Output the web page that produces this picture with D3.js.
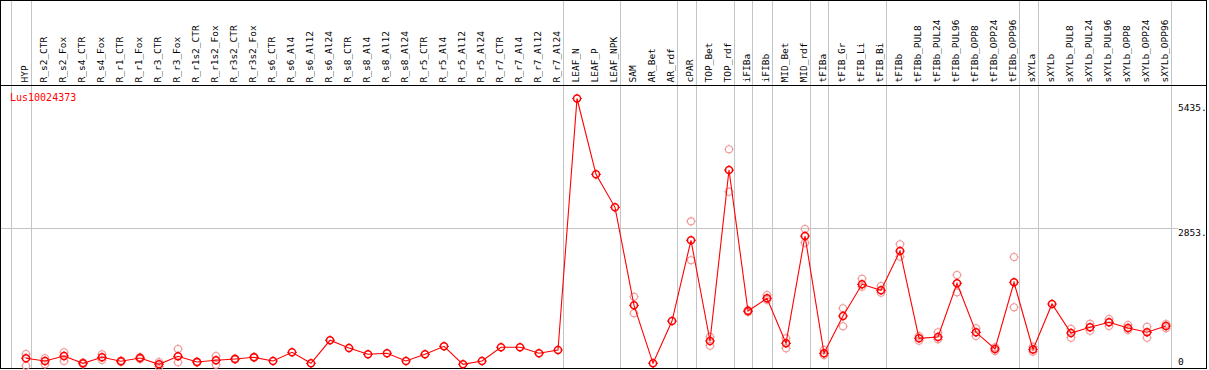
<!DOCTYPE html>
<meta charset="utf-8">
<style>
html,body {
  margin:0px;
  padding:0px;
  overflow:hidden;
  background-color:white;
}
text {
  font-family: "DejaVu Sans Mono", monospace;
  font-size: 9.5px;
}
.sep, .grid {
  stroke: #c4c4c4;
  stroke-width: 1;
  shape-rendering: crispEdges;
}
.frame {
  fill: none;
  stroke: black;
  stroke-width: 1;
  shape-rendering: crispEdges;
}
</style>
<body>
<svg></svg>
</body>
<script src="https://d3js.org/d3.v7.min.js"></script>
<script>

var categories = ["HYP","R_s2_CTR","R_s2_Fox","R_s4_CTR","R_s4_Fox","R_r1_CTR","R_r1_Fox","R_r3_CTR","R_r3_Fox",
  "R_r1s2_CTR","R_r1s2_Fox","R_r3s2_CTR","R_r3s2_Fox","R_s6_CTR","R_s6_Al4","R_s6_Al12","R_s6_Al24",
  "R_s8_CTR","R_s8_Al4","R_s8_Al12","R_s8_Al24","R_r5_CTR","R_r5_Al4","R_r5_Al12","R_r5_Al24",
  "R_r7_CTR","R_r7_Al4","R_r7_Al12","R_r7_Al24","LEAF_N","LEAF_P","LEAF_NPK","SAM","AR_Bet","AR_rdf",
  "cPAR","TOP_Bet","TOP_rdf","iFIBa","iFIBb","MID_Bet","MID_rdf","tFIBa","tFIB_Gr","tFIB_Li","tFIB_Bi",
  "tFIBb","tFIBb_PUL8","tFIBb_PUL24","tFIBb_PUL96","tFIBb_OPP8","tFIBb_OPP24","tFIBb_OPP96",
  "sXYLa","sXYLb","sXYLb_PUL8","sXYLb_PUL24","sXYLb_PUL96","sXYLb_OPP8","sXYLb_OPP24","sXYLb_OPP96"];

var means = [267,213,312,167,286,207,272,147,306,193,227,253,286,213,386,167,625,471,346,366,213,346,505,147,213,
  485,485,366,432,5435,3926,3270,1321,167,1008,2614,611,4012,1207,1460,565,2699,366,1108,1738,1619,
  2401,664,690,1758,784,452,1778,442,1347,770,883,983,869,784,909];

var repHigh = [352,267,386,180,346,220,290,193,452,200,312,260,295,null,null,null,null,null,null,null,null,null,null,null,null,
  null,null,null,null,null,null,null,1492,null,null,2991,696,4424,1227,1525,664,2838,432,1261,1850,1705,
  2534,710,784,1923,863,485,2281,497,null,855,955,1048,929,895,949];

var repLow = [119,147,213,155,233,195,255,100,187,185,139,245,280,null,null,null,null,null,null,null,null,null,null,null,null,
  null,null,null,null,null,null,null,1162,null,null,2216,517,3580,1190,1426,465,2566,332,903,1691,1571,
  2287,617,644,1579,710,412,1281,398,null,676,815,909,829,676,863];

var separatorsAfter = [-1,0,28,31,34,35,37,38,39,41,42,45,52,53,60];
var axisTicks = [5435, 2853, 0];
var geneName = "Lus10024373";

var W = 1209, H = 370;
var headerY = 85.5, bottomY = 368.5, rightX = 1206.5;

var svg = d3.select("svg").attr("width", W).attr("height", H);

var x = d3.scaleLinear().domain([0, categories.length - 1]).range([26, 1166]);
var y = d3.scaleLinear().domain([0, 5435]).range([371.7, 98.5]);

// group separators
svg.selectAll(".sep").data(separatorsAfter).enter().append("line")
  .attr("class", "sep")
  .attr("x1", function(d){ return Math.round(x(d) + 4.5) + 0.5; })
  .attr("x2", function(d){ return Math.round(x(d) + 4.5) + 0.5; })
  .attr("y1", 0).attr("y2", bottomY);

// grid line at the middle tick
svg.append("line").attr("class", "grid")
  .attr("x1", 0).attr("x2", 1178)
  .attr("y1", Math.round(y(axisTicks[1])) + 0.5)
  .attr("y2", Math.round(y(axisTicks[1])) + 0.5);

// frame and header line
svg.append("rect").attr("class", "frame")
  .attr("x", 0.5).attr("y", 0.5).attr("width", rightX - 0.5).attr("height", bottomY - 0.5);
svg.append("line").attr("stroke", "black").attr("shape-rendering", "crispEdges")
  .attr("x1", 0).attr("x2", rightX).attr("y1", headerY).attr("y2", headerY);

// category labels
svg.selectAll(".lab").data(categories).enter().append("text")
  .attr("class", "lab")
  .attr("transform", function(d, i){ return "translate(" + (x(i) + 2) + ",82.5) rotate(-90)"; })
  .attr("fill", "black")
  .text(function(d){ return d; });

// axis labels
svg.selectAll(".tk").data(axisTicks).enter().append("text")
  .attr("class", "tk")
  .attr("x", 1178)
  .attr("y", function(d, i){
    if (i == 0) return y(d) + 12.5;
    if (d == 0) return bottomY - 3.5;
    return y(d) + 7.7;
  })
  .attr("fill", "black")
  .text(function(d){ return d == 0 ? "0" : d + "."; });

svg.append("text").attr("x", 10).attr("y", 101).attr("fill", "red")
  .style("font-size", "10px").text(geneName);

function gear(cx, cy, r) {
  return "M" + cx + "," + (cy - r - 1.3) + "v1.3M" + cx + "," + (cy + r) + "v1.3" +
         "M" + (cx - r - 1.3) + "," + cy + "h1.3M" + (cx + r) + "," + cy + "h1.3";
}

// replicates
var reps = [];
means.forEach(function(m, i){
  if (repHigh[i] != null) reps.push([i, repHigh[i]]);
  if (repLow[i] != null) reps.push([i, repLow[i]]);
});
var rg = svg.append("g").attr("stroke", "#f09a9a").attr("fill", "none").attr("stroke-width", 1.1);
rg.selectAll("circle").data(reps).enter().append("circle")
  .attr("cx", function(d){ return x(d[0]); })
  .attr("cy", function(d){ return y(d[1]); })
  .attr("r", 3.5);
rg.selectAll("path").data(reps).enter().append("path")
  .attr("d", function(d){ return gear(x(d[0]), y(d[1]), 3.5); });

// mean line
var line = d3.line().x(function(d, i){ return x(i); }).y(function(d){ return y(d); });
svg.append("path").datum(means)
  .attr("fill", "none").attr("stroke", "red").attr("stroke-width", 1.1)
  .attr("d", line);

var mg = svg.append("g").attr("stroke", "red").attr("fill", "none").attr("stroke-width", 1.5);
mg.selectAll("circle").data(means).enter().append("circle")
  .attr("cx", function(d, i){ return x(i); })
  .attr("cy", function(d){ return y(d); })
  .attr("r", 3.5);
mg.selectAll("path").data(means).enter().append("path")
  .attr("stroke-width", 1.2)
  .attr("d", function(d, i){ return gear(x(i), y(d), 3.5); });

</script>
